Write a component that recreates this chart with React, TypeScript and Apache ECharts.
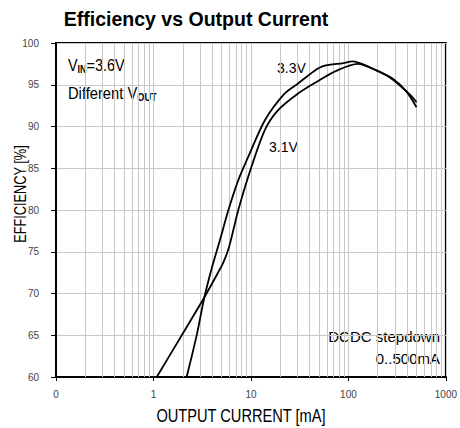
import React, { useEffect, useRef } from "react";
import * as echarts from "echarts";

// Axis ranges and ticks
const xMin = 0.1;
const xMax = 1000;
const yMin = 60;
const yMax = 100;
const yInterval = 5;

// Minor (2..9 per decade) vertical grid values
const minorGrid = [
  0.2, 0.3, 0.4, 0.5, 0.6, 0.7, 0.8, 0.9,
  2, 3, 4, 5, 6, 7, 8, 9,
  20, 30, 40, 50, 60, 70, 80, 90,
  200, 300, 400, 500, 600, 700, 800, 900,
];

// Series: [output current mA, efficiency %]
const v33: [number, number][] = [
  [2.19, 60], [2.8, 65.2], [3.33, 69.55], [4.0, 73.2], [4.81, 76.4], [5.84, 79.9],
  [7.38, 83.5], [9.33, 86.3], [14, 90.8], [22, 93.9], [30, 95.1], [44, 96.6],
  [56, 97.25], [89, 97.6], [110, 97.8], [165, 97.1], [264, 95.9], [421, 93.9], [500, 92.9],
];
const v31: [number, number][] = [
  [1.08, 60], [2, 65.2], [3.33, 69.55], [4.5, 72.3], [5.2, 73.7], [5.9, 75.4], [6.6, 77.6],
  [7.38, 79.9], [9.33, 83.9], [13.8, 89.5], [18.8, 91.9], [30, 93.9], [48, 95.4],
  [76, 96.7], [125, 97.5], [195, 96.7], [288, 95.7], [393, 94.2], [500, 92.3],
];

const FONT = "'Liberation Sans', Arial, sans-serif";
const NARROW = "'Liberation Sans Narrow', 'Liberation Sans', sans-serif";

export default function App() {
  const ref = useRef<HTMLDivElement>(null);
  useEffect(() => {
    document.body.style.margin = "0";
    const chart = echarts.init(ref.current!, null, { renderer: "svg" });
    chart.setOption({
      animation: false,
      backgroundColor: "#fff",
      grid: {
        left: 56, right: 10, top: 43, bottom: 51,
        show: true, borderColor: "#000", borderWidth: 2, backgroundColor: "transparent",
      },
      xAxis: {
        type: "log", logBase: 10, min: xMin, max: xMax,
        axisLine: { lineStyle: { color: "#000", width: 2 } },
        axisTick: { show: true, length: 4, lineStyle: { color: "#000", width: 1 } },
        axisLabel: {
          formatter: (v: number) => (v < 1 ? "0" : String(Math.round(v))),
          fontSize: 10, color: "#444", margin: 12, fontFamily: NARROW,
        },
        splitLine: { show: true, lineStyle: { color: "#c8c8c8", width: 1 } },
      },
      yAxis: {
        type: "value", min: yMin, max: yMax, interval: yInterval,
        axisLine: { show: true, lineStyle: { color: "#000", width: 2 } },
        axisTick: { show: true, length: 5, lineStyle: { color: "#000", width: 1 } },
        axisLabel: { fontSize: 10, color: "#444", margin: 17, fontFamily: NARROW },
        splitLine: { show: true, lineStyle: { color: "#c8c8c8", width: 1 } },
      },
      series: [
        {
          name: "3.3V", type: "line", data: v33, smooth: 0.3, showSymbol: false, z: 3,
          lineStyle: { color: "#000", width: 1.8 },
          markLine: {
            silent: true, z: 1, symbol: ["none", "none"], label: { show: false },
            lineStyle: { color: "#c8c8c8", type: "solid", width: 1 },
            emphasis: { disabled: true },
            data: minorGrid.map((v) => ({ xAxis: v })),
          },
        },
        {
          name: "3.1V", type: "line", data: v31, smooth: 0.3, showSymbol: false, z: 3,
          lineStyle: { color: "#000", width: 1.8 },
        },
      ],
      graphic: [
        {
          type: "text", x: 196, y: 19, scaleX: 0.93,
          style: { text: "Efficiency vs Output Current", fontSize: 21, fontWeight: "bold", fontFamily: FONT, fill: "#000", align: "center", verticalAlign: "middle" },
        },
        {
          type: "text", x: 20, y: 194, rotation: Math.PI / 2, scaleX: 0.75,
          style: { text: "EFFICIENCY [%]", fontSize: 17, fontFamily: FONT, fill: "#000", align: "center", verticalAlign: "middle" },
        },
        {
          type: "text", x: 241, y: 416, scaleX: 0.77,
          style: { text: "OUTPUT CURRENT [mA]", fontSize: 19, fontFamily: FONT, fill: "#000", align: "center", verticalAlign: "middle" },
        },
        {
          type: "text", x: 68, y: 65, scaleX: 0.9,
          style: {
            text: "{m|V}{s|IN}{m|=3.6V}", fontFamily: FONT, fill: "#000", align: "left", verticalAlign: "middle",
            rich: {
              m: { fontSize: 16, fontFamily: FONT, lineHeight: 18, verticalAlign: "middle" },
              s: { fontSize: 10, fontWeight: "bold", fontFamily: FONT, lineHeight: 10, verticalAlign: "bottom" },
            },
          },
        },
        {
          type: "text", x: 68, y: 93, scaleX: 0.92,
          style: {
            text: "{m|Different V}{s|OUT}", fontFamily: FONT, fill: "#000", align: "left", verticalAlign: "middle",
            rich: {
              m: { fontSize: 16, fontFamily: FONT, lineHeight: 18, verticalAlign: "middle" },
              s: { fontSize: 10, fontWeight: "bold", fontFamily: FONT, lineHeight: 10, verticalAlign: "bottom" },
            },
          },
        },
        {
          type: "text", x: 277, y: 67.5,
          style: { text: "3.3V", fontSize: 14, fontFamily: FONT, fill: "#000", align: "left", verticalAlign: "middle" },
        },
        {
          type: "text", x: 269, y: 147,
          style: { text: "3.1V", fontSize: 14, fontFamily: FONT, fill: "#000", align: "left", verticalAlign: "middle" },
        },
        {
          type: "text", x: 440, y: 336,
          style: { text: "DCDC stepdown", fontSize: 15, fontFamily: FONT, fill: "#000", align: "right", verticalAlign: "middle" },
        },
        {
          type: "text", x: 440, y: 358,
          style: { text: "0..500mA", fontSize: 15, fontFamily: FONT, fill: "#000", align: "right", verticalAlign: "middle" },
        },
      ],
    });
    return () => chart.dispose();
  }, []);
  return <div ref={ref} style={{ width: 460, height: 428, position: "absolute", left: 0, top: 0 }} />;
}
